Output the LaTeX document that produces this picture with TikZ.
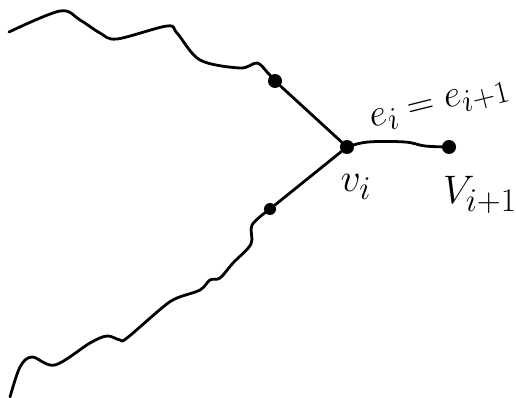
\documentclass[tikz,border=0pt]{standalone}
\usepackage{tikz}
\usetikzlibrary{positioning}

\begin{document}
\begin{tikzpicture}[
  x=1pt, y=-1pt,
  dot/.style={circle, fill, inner sep=0pt, minimum size=14pt},
  sketch/.style={line width=2.8pt, line cap=round, line join=round},
  lbl/.style={font=\Huge, inner sep=0pt, scale=1.6, transform shape}
]
\useasboundingbox (0,0) rectangle (516,398);

\node[dot] (top) at (275,81) {};
\node[dot] (vi) at (347,147) {};
\node[dot] (vnext) at (449,147) {};
\node[dot, minimum size=12pt] (low) at (270,209) {};

\coordinate (topend) at (9,32);
\coordinate (lowend) at (10,397);

\node[lbl] (lvi) at ([xshift=9pt, yshift=-40pt]vi) {$v_i$};
\node[lbl] (lvnext) at ([xshift=31pt, yshift=-48pt]vnext) {$V_{i+1}$};
\node[lbl, scale=0.95, rotate=14] (ledge) at ([xshift=-9pt, yshift=40pt]vnext) {$e_i = e_{i+1}$};

% wiggly paths
\draw[sketch] plot[smooth, tension=0.55] coordinates {(topend) (60,11) (80,20) (100,33) (117,39) (167,26) (177,33) (200,60) (240,68) (257,63) (267,72) (top.center)};
\draw[sketch] plot[smooth, tension=0.55] coordinates {(low.center) (252,225) (251,244) (233,263) (220,278) (210,280) (200,290) (177,298) (163,307) (127,338) (120,340) (107,336) (90,343) (55,365) (32,357) (20,367) (lowend)};

% edges
\draw[sketch] (top) -- (vi);
\draw[sketch] (vi) -- (low);
\draw[sketch] plot[smooth, tension=0.6] coordinates {(vi.center) (368,142) (405,142) (425,146) (vnext.center)};
\end{tikzpicture}
\end{document}
